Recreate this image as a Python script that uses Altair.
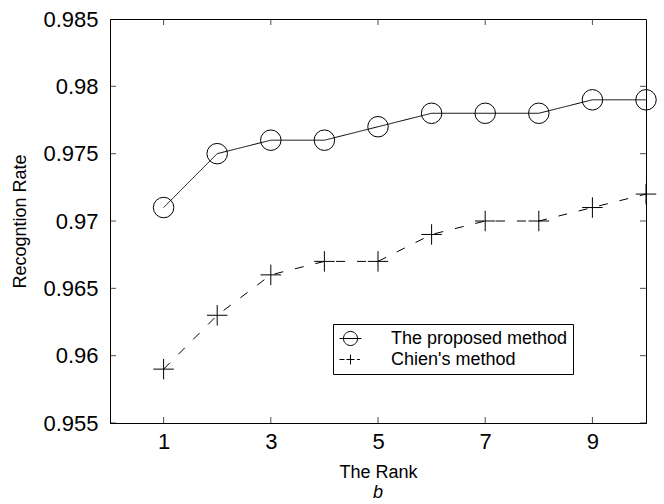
import altair as alt
import pandas as pd

# ---- data ----
ranks = [1, 2, 3, 4, 5, 6, 7, 8, 9, 10]
proposed = [0.971, 0.975, 0.976, 0.976, 0.977, 0.978, 0.978, 0.978, 0.979, 0.979]
chien = [0.959, 0.963, 0.966, 0.967, 0.967, 0.969, 0.970, 0.970, 0.971, 0.972]
methods = ["The proposed method", "Chien's method"]
x_ticks = [1, 3, 5, 7, 9]
y_ticks = [0.955, 0.96, 0.965, 0.97, 0.975, 0.98, 0.985]
caption = "b"

df = pd.DataFrame({
    "rank": ranks * 2,
    "rate": proposed + chien,
    "method": [methods[0]] * len(ranks) + [methods[1]] * len(ranks),
})
xt = pd.DataFrame({"rank": x_ticks})
yt = pd.DataFrame({"rate": y_ticks})

FONT = "Liberation Sans"
W, H = 536, 404

xs = alt.Scale(domain=[0, 10], nice=False, zero=False)
ys = alt.Scale(domain=[0.955, 0.985], nice=False, zero=False)

x_axis = alt.Axis(values=x_ticks, title="The Rank", ticks=False, grid=False,
                  labelFontSize=22, labelPadding=8, labelFont=FONT, labelColor="black",
                  titleFont=FONT, titleFontSize=18, titleFontWeight="normal", titleColor="black",
                  titleX=W / 2, titleY=49, titleBaseline="middle",
                  domainColor="black", domainWidth=1)
y_axis = alt.Axis(values=y_ticks, format=".3~f", title="Recogntion Rate", ticks=False, grid=False,
                  labelFontSize=22, labelPadding=12, labelFont=FONT, labelColor="black",
                  titleFont=FONT, titleFontSize=18, titleFontWeight="normal", titleColor="black",
                  titleX=-90, titleY=H / 2, titleAngle=-90, titleBaseline="middle",
                  domainColor="black", domainWidth=1)

X = alt.X("rank:Q", scale=xs, axis=x_axis)
Y = alt.Y("rate:Q", scale=ys, axis=y_axis)

lines = alt.Chart(df).mark_line(color="black", strokeWidth=1).encode(
    x=X, y=Y,
    strokeDash=alt.StrokeDash("method:N", scale=alt.Scale(domain=methods, range=[[1, 0], [9, 12]]), legend=None),
)

PLUS = "M-1,0L1,0M0,-1L0,1"
points = alt.Chart(df).mark_point(filled=False, color="black", strokeWidth=1, size=420, opacity=1).encode(
    x=X, y=Y,
    shape=alt.Shape("method:N", scale=alt.Scale(domain=methods, range=["circle", PLUS]), legend=None),
)

LEG_CIRC = "M-1.22,0L1.22,0M-0.78,0A0.78,0.78,0,1,0,0.78,0A0.78,0.78,0,1,0,-0.78,0Z"
LEG_PLUS = "M-1.22,0L-0.67,0M-0.45,0L0.45,0M0,-0.55L0,0.55M0.72,0L1.05,0"
legend_layer = alt.Chart(df).mark_point(filled=False, color="black", strokeWidth=1, opacity=0).encode(
    x=X, y=Y,
    shape=alt.Shape("method:N", scale=alt.Scale(domain=methods, range=[LEG_CIRC, LEG_PLUS]),
                    legend=alt.Legend(title=None, orient="none", legendX=223, legendY=305,
                                      strokeColor="black", fillColor="white", padding=5,
                                      labelFont=FONT, labelFontSize=18, labelColor="black",
                                      labelOffset=31, rowPadding=2, labelLimit=0,
                                      symbolSize=324, symbolOffset=3, symbolOpacity=1,
                                      symbolStrokeColor="black",
                                      symbolStrokeWidth=1, symbolFillColor="transparent")),
)

# inward ticks on all four sides (half of each tick is clipped away)
tick_kw = dict(size=12, thickness=1, color="black", clip=True)
left_ticks = alt.Chart(yt).mark_tick(orient="horizontal", **tick_kw).encode(y=Y, x=alt.datum(0, scale=xs))
right_ticks = alt.Chart(yt).mark_tick(orient="horizontal", **tick_kw).encode(y=Y, x=alt.datum(10, scale=xs))
bottom_ticks = alt.Chart(xt).mark_tick(orient="vertical", **tick_kw).encode(x=X, y=alt.datum(0.955, scale=ys))
top_ticks = alt.Chart(xt).mark_tick(orient="vertical", **tick_kw).encode(x=X, y=alt.datum(0.985, scale=ys))

cap = alt.Chart(pd.DataFrame({"t": [caption]})).mark_text(
    font=FONT, fontSize=18, fontStyle="italic", color="black", baseline="middle", align="center"
).encode(text="t:N", x=alt.value(W / 2), y=alt.value(H + 70))

chart = alt.layer(lines, points, legend_layer, left_ticks, right_ticks, bottom_ticks, top_ticks, cap).resolve_scale(
    shape="independent", strokeDash="independent"
).resolve_legend(shape="independent").properties(
    width=W, height=H,
    autosize=alt.AutoSizeParams(type="none"),
    padding={"left": 110, "top": 19, "right": 18, "bottom": 81},
    background="white",
).configure_view(stroke="black", strokeWidth=1)

chart.save("out.html", embed_options={"renderer": "svg", "actions": False})
